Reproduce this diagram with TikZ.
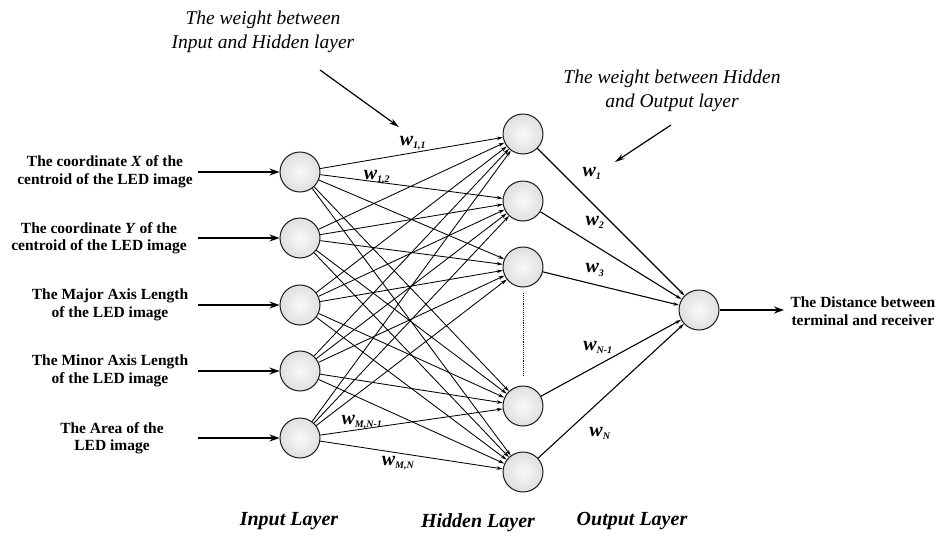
\documentclass[tikz,border=0pt]{standalone}
\usepackage{fontspec}
\setmainfont{Liberation Serif}
\usetikzlibrary{arrows.meta}
\begin{document}
\begin{tikzpicture}[x=1pt,y=-1pt,
  neuron/.style={circle,draw=black!90,line width=1pt,minimum size=40pt,inner sep=0pt,inner color=gray!5,outer color=gray!25},
  conn/.style={line width=0.85pt,-{Stealth[length=6pt,width=3.5pt]}},
  bigarrow/.style={line width=2.6pt,-{Stealth[length=10pt,width=7pt]}},
  annarrow/.style={line width=1.2pt,-{Stealth[length=10pt,width=5.5pt]}},
  inlabel/.style={font=\fontsize{15.5}{17.5}\selectfont\bfseries,align=center},
  ann/.style={font=\fontsize{19.5}{24}\selectfont\itshape,align=center},
  wlab/.style={font=\fontsize{20}{22}\selectfont\bfseries\itshape,inner sep=0pt},
  sub/.style={},
  layerlab/.style={font=\fontsize{20}{22}\selectfont\bfseries\itshape}]
\useasboundingbox (0,0) rectangle (938,536);
% input neurons
\foreach \i/\y in {1/172,2/238,3/305,4/371,5/438}{
  \node[neuron] (I\i) at (300,\y) {};
  \coordinate (S\i) at (198,\y);
}
% hidden neurons
\foreach \j/\y in {1/134,2/201,3/267,4/406,5/472}{
  \node[neuron] (H\j) at (523,\y) {};
}
% output
\node[neuron] (O) at (699,310) {};
% input arrows
\foreach \i in {1,...,5}{\draw[bigarrow] (S\i) -- (I\i.west);}
% input-hidden connections
\foreach \i in {1,...,5}{\foreach \j in {1,...,5}{\draw[conn] (I\i) -- (H\j);}}
% hidden-output
\foreach \j in {1,...,5}{\draw[conn,line width=1.1pt] (H\j) -- (O);}
% dotted
\coordinate (D1) at (523,293);
\coordinate (D2) at (523,375);
\draw[densely dotted,line width=0.9pt] (D1) -- (D2);
% output arrow
\coordinate (E) at (784,310);
\draw[bigarrow] (O.east) -- (E);
\node[inlabel,anchor=west] (outtxt) at (787,311) {The Distance between\\terminal and receiver};
% input labels
\node[inlabel] (L1) at (105,172) {The coordinate \textit{X} of the\\centroid of the LED image};
\node[inlabel] (L2) at (99,238) {The coordinate \textit{Y} of the\\centroid of the LED image};
\node[inlabel] (L3) at (110,305) {The Major Axis Length\\of the LED image};
\node[inlabel] (L4) at (110,371) {The Minor Axis Length\\of the LED image};
\node[inlabel] (L5) at (112,438) {The Area of the\\LED image};
% weight labels
\node[wlab] (w11) at (413,143) {w\textsubscript{\fontsize{10}{10}\selectfont 1,1}};
\node[wlab] (w12) at (377,177) {w\textsubscript{\fontsize{10}{10}\selectfont 1,2}};
\node[wlab] (wmn1) at (362,422) {w\textsubscript{\fontsize{10}{10}\selectfont M,N-1}};
\node[wlab] (wmn) at (398,463) {w\textsubscript{\fontsize{10}{10}\selectfont M,N}};
\node[wlab] (w1) at (592,173) {w\textsubscript{\fontsize{10}{10}\selectfont 1}};
\node[wlab] (w2) at (595,222) {w\textsubscript{\fontsize{10}{10}\selectfont 2}};
\node[wlab] (w3) at (595,270) {w\textsubscript{\fontsize{10}{10}\selectfont 3}};
\node[wlab] (wn1) at (598,347) {w\textsubscript{\fontsize{10}{10}\selectfont N-1}};
\node[wlab] (wn) at (600,433) {w\textsubscript{\fontsize{10}{10}\selectfont N}};
% annotations
\node[ann] (A1) at (263,32) {The weight between\\Input and Hidden layer};
\coordinate (A1s) at (320,70);
\coordinate (A1e) at (399,127);
\draw[annarrow] (A1s) -- (A1e);
\node[ann] (A2) at (672,91) {The weight between Hidden\\and Output layer};
\coordinate (A2s) at (671,125);
\coordinate (A2e) at (615,162);
\draw[annarrow] (A2s) -- (A2e);
% layer labels
\node[layerlab] (LL1) at (289,521) {Input Layer};
\node[layerlab] (LL2) at (478,523) {Hidden Layer};
\node[layerlab] (LL3) at (632,521) {Output Layer};
\end{tikzpicture}
\end{document}
